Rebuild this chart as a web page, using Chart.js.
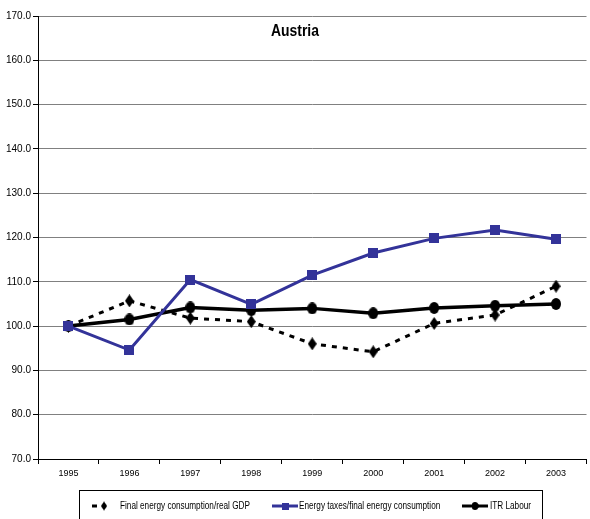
<!DOCTYPE html>
<html>
<head>
<meta charset="utf-8">
<script src="https://cdn.jsdelivr.net/npm/chart.js@4/dist/chart.umd.min.js"></script>
<style>
  html, body { margin: 0; padding: 0; background: #fff; overflow: hidden; }
  #wrap { width: 590px; height: 519px; overflow: hidden; }
</style>
</head>
<body>
<div id="wrap"><canvas id="austriaChart" width="594" height="519"></canvas></div>
<script>
// Chart data
const years = ['1995', '1996', '1997', '1998', '1999', '2000', '2001', '2002', '2003'];
const seriesNames = ['Final energy consumption/real GDP', 'Energy taxes/final energy consumption', 'ITR Labour'];
const energyIntensity = [100, 105.7, 101.8, 101.0, 96.0, 94.2, 100.6, 102.5, 109.0];
const energyTaxes = [100, 94.6, 110.5, 104.9, 111.5, 116.5, 119.8, 121.7, 119.6];
const itrLabour = [100, 101.5, 104.2, 103.6, 104.0, 102.9, 104.1, 104.6, 105.0];
const yMin = 70;
const yMax = 170;
const yStep = 10;
const chartTitle = 'Austria';

const FONT = '"Liberation Sans", Arial, sans-serif';

// small canvases used as point markers
function makeMarker(shape, w, h, color) {
    const c = document.createElement('canvas');
    c.width = w;
    c.height = h;
    const g = c.getContext('2d');
    g.fillStyle = color;
    g.beginPath();
    if (shape === 'diamond') {
        g.moveTo(w / 2, 0);
        g.lineTo(w, h / 2);
        g.lineTo(w / 2, h);
        g.lineTo(0, h / 2);
        g.closePath();
    } else if (shape === 'ellipse') {
        g.ellipse(w / 2, h / 2, w / 2, h / 2, 0, 0, Math.PI * 2);
    } else {
        g.rect(0, 0, w, h);
    }
    g.fill();
    return c;
}

const diamond = makeMarker('diamond', 9, 13, '#000');
const square = makeMarker('square', 10, 10, '#333399');
const ellipse = makeMarker('ellipse', 10, 12, '#000');

// text squeezed sideways, the original uses a narrow face
function narrowText(ctx, text, x, y, squeeze) {
    ctx.save();
    ctx.translate(x, y);
    ctx.scale(squeeze, 1);
    ctx.fillText(text, 0, 0);
    ctx.restore();
}

// title drawn inside the plot area
const titlePlugin = {
    id: 'insideTitle',
    afterDraw(chart) {
        const ctx = chart.ctx;
        ctx.save();
        ctx.font = 'bold 16px ' + FONT;
        ctx.fillStyle = '#000';
        ctx.textAlign = 'center';
        ctx.textBaseline = 'middle';
        narrowText(ctx, chartTitle, 295, 32, 0.87);
        ctx.restore();
    }
};

// boxed legend with line + marker samples
const legendPlugin = {
    id: 'boxLegend',
    afterDraw(chart) {
        const ctx = chart.ctx;
        const slots = [
            { x1: 92, x2: 97, cx: 104, tx: 120 },
            { x1: 272, x2: 298, cx: 285, tx: 299 },
            { x1: 462, x2: 488, cx: 475, tx: 490 }
        ];
        const y = 506;
        ctx.save();
        ctx.strokeStyle = '#000';
        ctx.lineWidth = 1;
        ctx.strokeRect(79.5, 490.5, 463, 40);
        ctx.font = '10px ' + FONT;
        ctx.textBaseline = 'middle';
        ctx.textAlign = 'left';
        chart.data.datasets.forEach((ds, i) => {
            const s = slots[i];
            ctx.save();
            ctx.strokeStyle = ds.borderColor;
            ctx.lineWidth = 3;
            ctx.setLineDash(ds.borderDash || []);
            ctx.beginPath();
            ctx.moveTo(s.x1, y);
            ctx.lineTo(s.x2, y);
            ctx.stroke();
            ctx.restore();
            const img = ds.pointStyle;
            const w = img.width * 0.7;
            const h = img.height * 0.7;
            ctx.drawImage(img, s.cx - w / 2, y - h / 2, w, h);
            ctx.fillStyle = '#000';
            narrowText(ctx, ds.label, s.tx, y, 0.82);
        });
        ctx.restore();
    }
};

const ctx = document.getElementById('austriaChart');

new Chart(ctx, {
    type: 'line',
    data: {
        labels: years,
        datasets: [
            {
                label: seriesNames[0],
                data: energyIntensity,
                borderColor: '#000',
                borderWidth: 3,
                borderDash: [5, 6],
                pointStyle: diamond,
                tension: 0,
                order: 3
            },
            {
                label: seriesNames[1],
                data: energyTaxes,
                borderColor: '#333399',
                borderWidth: 3,
                pointStyle: square,
                tension: 0,
                order: 1
            },
            {
                label: seriesNames[2],
                data: itrLabour,
                borderColor: '#000',
                borderWidth: 3.5,
                pointStyle: ellipse,
                tension: 0,
                order: 2
            }
        ]
    },
    options: {
        responsive: false,
        animation: false,
        devicePixelRatio: 1,
        layout: { padding: { top: 16, bottom: 40, left: 0, right: 0 } },
        plugins: {
            legend: { display: false },
            title: { display: false },
            tooltip: { enabled: false }
        },
        scales: {
            x: {
                offset: true,
                grid: {
                    offset: true,
                    drawOnChartArea: false,
                    tickLength: 5,
                    tickColor: '#000'
                },
                border: { color: '#000', width: 1 },
                ticks: {
                    color: '#000',
                    font: { family: FONT, size: 9 },
                    padding: 4,
                    maxRotation: 0
                },
                afterFit(scale) { scale.height = 20; }
            },
            y: {
                min: yMin,
                max: yMax,
                ticks: {
                    stepSize: yStep,
                    color: '#000',
                    font: { family: FONT, size: 10 },
                    padding: 2,
                    callback: v => v.toFixed(1)
                },
                grid: {
                    color: '#808080',
                    lineWidth: 1,
                    tickLength: 5,
                    tickColor: '#000'
                },
                border: { color: '#000', width: 1 },
                afterFit(scale) { scale.width = 38; }
            }
        }
    },
    plugins: [titlePlugin, legendPlugin]
});
</script>
</body>
</html>
